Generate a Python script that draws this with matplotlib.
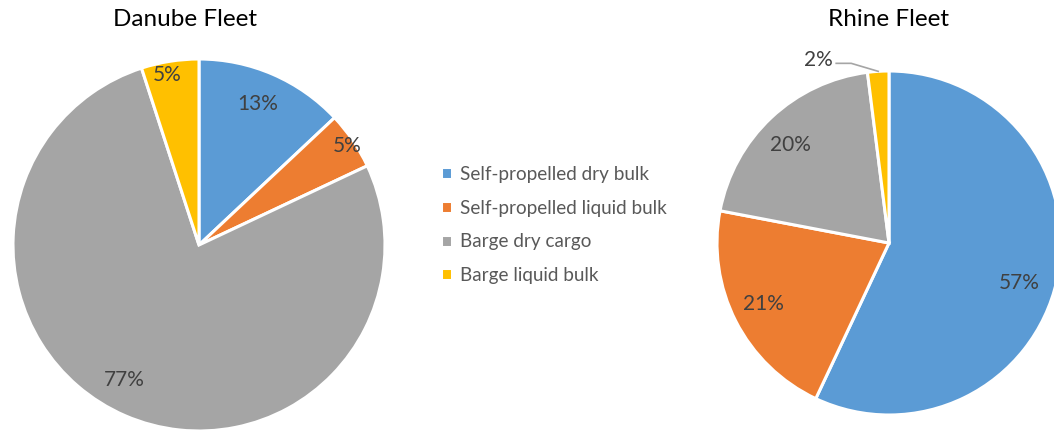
import numpy as np
import matplotlib
matplotlib.use("Agg")
import matplotlib.pyplot as plt

categories = ["Self-propelled dry bulk", "Self-propelled liquid bulk",
              "Barge dry cargo", "Barge liquid bulk"]
danube_values = [13, 5, 77, 5]
rhine_values = [57, 21, 20, 2]
titles = ["Danube Fleet", "Rhine Fleet"]
colors = ["#5B9BD5", "#ED7D31", "#A5A5A5", "#FFC000"]

plt.rcParams['font.family'] = ['Lato', 'DejaVu Sans']

W, H = 1054, 432
fig = plt.figure(figsize=(W / 100, H / 100), dpi=100)
ax = fig.add_axes([0, 0, 1, 1])

def draw_pie(values, center, radius, label_r, label_da, outside=None):
    wedges, _ = ax.pie(values, colors=colors, startangle=90, counterclock=False,
                       center=center, radius=radius,
                       wedgeprops=dict(edgecolor="white", linewidth=2.2))
    for i, (w, v) in enumerate(zip(wedges, values)):
        mid = np.deg2rad((w.theta1 + w.theta2) / 2)
        if outside is not None and i == outside:
            ex = center[0] + radius * np.cos(mid)
            ey = center[1] + radius * np.sin(mid)
            lx, ly = ex - 42, ey + 8
            ax.plot([ex, lx + 15, lx], [ey, ly, ly], color="#A5A5A5", lw=1.2)
            ax.text(lx - 3, ly + 3, f"{v}%", ha="right", va="center",
                    fontsize=15, color="#404040")
        else:
            r = radius * label_r[i]
            a = mid + np.deg2rad(label_da[i])
            ax.text(center[0] + r * np.cos(a), center[1] + r * np.sin(a),
                    f"{v}%", ha="center", va="center", fontsize=15, color="#404040")
    return wedges

wd = draw_pie(danube_values, (199, H - 245), 186,
              [0.822, 0.957, 0.83, 0.927], [0.7, -0.4, -5.7, 1.5])
draw_pie(rhine_values, (889, H - 243), 172,
         [0.79, 0.815, 0.81, 0.0], [-4.5, -1.0, 2.1, 0.0], outside=3)

ax.text(185, H - 20, titles[0], ha="center", va="center", fontsize=17.5, color="#000000")
ax.text(888, H - 19, titles[1], ha="center", va="center", fontsize=17.5, color="#000000")

ax.set_xlim(0, W)
ax.set_ylim(0, H)
ax.set_aspect("equal")
ax.axis("off")

fig.legend(wd, categories, loc="upper left", bbox_to_anchor=(424 / W, 1 - 149 / H),
           frameon=False, fontsize=13.6, labelcolor="#595959",
           handlelength=0.6, handleheight=0.6, handletextpad=0.4,
           labelspacing=0.88)

fig.savefig("out.png", dpi=100)
